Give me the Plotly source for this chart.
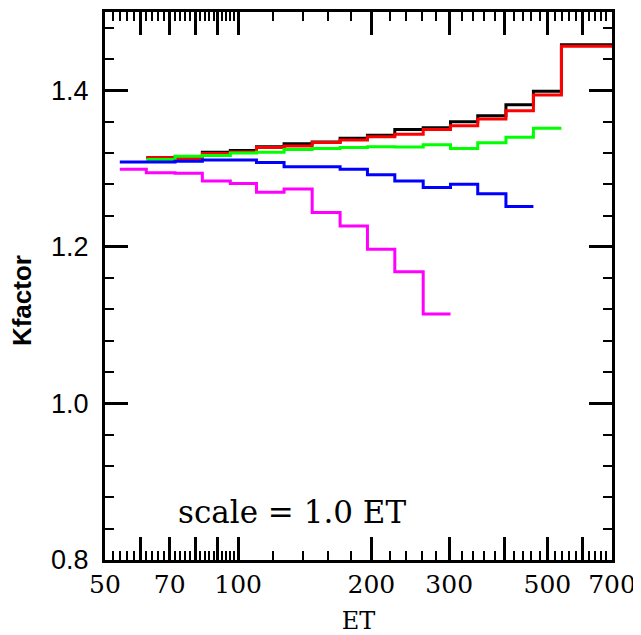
import plotly.graph_objects as go

# Bin edges in ET
edges = [54, 62, 72, 83, 96, 110, 127, 147, 170, 196, 226, 262, 302, 348, 403, 465, 538, 720]

# Series values per bin, with the index of the first bin
black_start = 1
black_vals = [1.3139, 1.3149, 1.3210, 1.3232, 1.3279, 1.3317, 1.3340, 1.3387, 1.3425,
              1.3499, 1.3522, 1.3597, 1.3674, 1.3814, 1.3987, 1.4582]
red_start = 1
red_vals = [1.3139, 1.3130, 1.3194, 1.3213, 1.3270, 1.3287, 1.3334, 1.3366, 1.3406,
            1.3439, 1.3499, 1.3548, 1.3633, 1.3738, 1.3941, 1.4561]
green_start = 1
green_vals = [1.3117, 1.3158, 1.3168, 1.3200, 1.3210, 1.3245, 1.3257, 1.3270, 1.3279,
              1.3276, 1.3304, 1.3257, 1.3330, 1.3400, 1.3516]
blue_start = 0
blue_vals = [1.3083, 1.3083, 1.3095, 1.3108, 1.3108, 1.3079, 1.3024, 1.3024, 1.2990,
             1.2922, 1.2841, 1.2758, 1.2799, 1.2678, 1.2514]
magenta_start = 0
magenta_vals = [1.2990, 1.2948, 1.2939, 1.2841, 1.2808, 1.2697, 1.2739, 1.2438, 1.2267,
                1.1971, 1.1681, 1.1142]

x_major = [50, 60, 70, 80, 90, 100, 200, 300, 400, 500, 600, 700]
x_major_text = ["50", "", "70", "", "", "100", "200", "300", "", "500", "", "700"]
x_minor = [52, 54, 56, 58, 62, 64, 66, 68, 72, 74, 76, 78, 82, 84, 86, 88, 92, 94, 96, 98,
           120, 140, 160, 180, 220, 240, 260, 280, 320, 340, 360, 380,
           420, 440, 460, 480, 520, 540, 560, 580, 620, 640, 660, 680]
y_major = [0.8, 1.0, 1.2, 1.4]
y_major_text = ["0.8", "1.0", "1.2", "1.4"]

series = [
    ("black", black_start, black_vals),
    ("#ff0000", red_start, red_vals),
    ("#00ff00", green_start, green_vals),
    ("#0000ff", blue_start, blue_vals),
    ("#ff00ff", magenta_start, magenta_vals),
]

fig = go.Figure()
for color, start, vals in series:
    xs = edges[start:start + len(vals) + 1]
    ys = vals + [vals[-1]]
    fig.add_trace(go.Scatter(x=xs, y=ys, mode="lines", line=dict(color=color, width=3, shape="hv"),
                             showlegend=False, hoverinfo="skip"))

axis_common = dict(showgrid=False, zeroline=False, showline=True, linecolor="black", linewidth=3,
                   mirror="allticks", ticks="inside", ticklen=23, tickwidth=2.5, tickcolor="black",
                   automargin=False)

fig.update_xaxes(type="log", range=[1.69897, 2.845098], tickmode="array", tickvals=x_major,
                 ticktext=x_major_text,
                 tickfont=dict(family="DejaVu Serif", size=25, color="black"),
                 minor=dict(tickmode="array", tickvals=x_minor, ticks="inside", ticklen=9,
                            tickwidth=2, tickcolor="black"),
                 title=dict(text="ET", font=dict(family="DejaVu Serif", size=24, color="black"), standoff=16),
                 **axis_common)
fig.update_yaxes(range=[0.8, 1.5], tickmode="array", tickvals=y_major, ticktext=y_major_text,
                 tickfont=dict(family="Liberation Sans", size=27, color="black"),
                 ticklabelstandoff=8,
                 minor=dict(tick0=0.8, dtick=0.04, ticks="inside", ticklen=9, tickwidth=2, tickcolor="black"),
                 **axis_common)

# y-axis title placed as in the reference (slightly below the plot middle)
fig.add_annotation(x=-0.164, y=0.474, xref="paper", yref="paper", xanchor="center", yanchor="middle",
                   text="<b>Kfactor</b>", textangle=-90, showarrow=False,
                   font=dict(family="Liberation Sans", size=26, color="black"))

fig.add_annotation(x=0.369, y=0.861, xref="x domain", yref="y", yanchor="middle",
                   text="scale = 1.0 ET", showarrow=False,
                   font=dict(family="DejaVu Serif", size=31, color="black"))

# page body adds an 8px offset; compensate so the plot lands at the reference position
fig.update_layout(width=633, height=627, margin=dict(l=97, r=29, t=4, b=75),
                  plot_bgcolor="white", paper_bgcolor="white")

fig.write_html("out.html")
